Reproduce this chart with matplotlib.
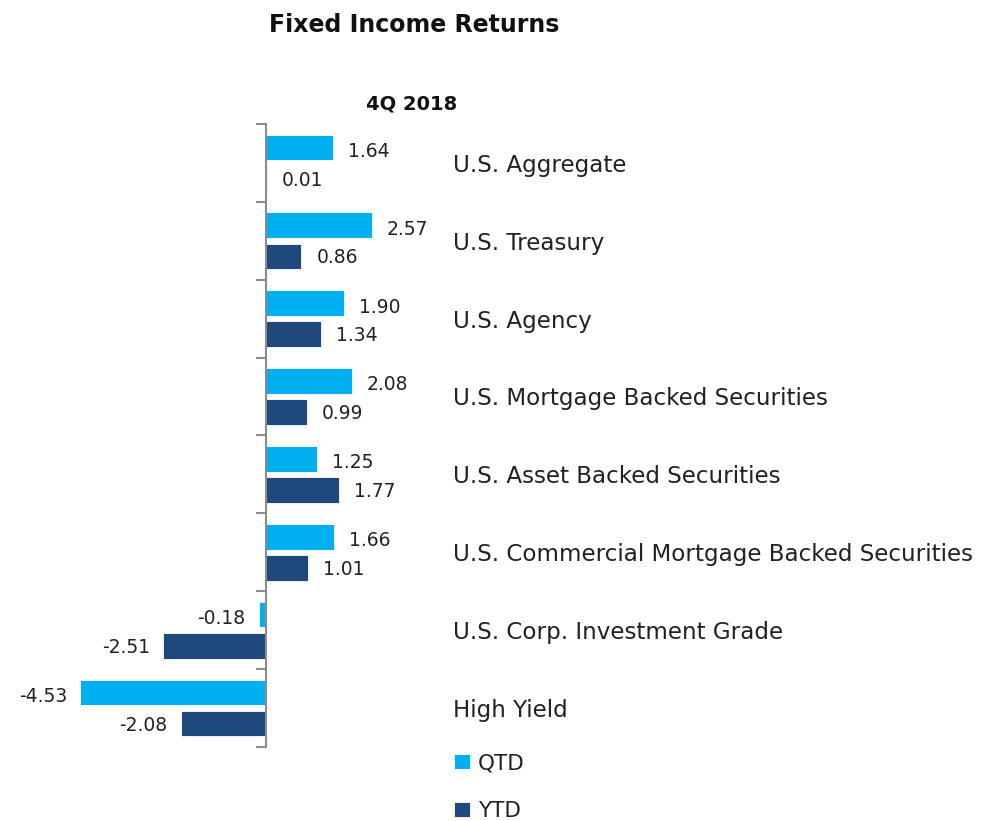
import matplotlib.pyplot as plt
import numpy as np

categories = ["U.S. Aggregate", "U.S. Treasury", "U.S. Agency",
              "U.S. Mortgage Backed Securities", "U.S. Asset Backed Securities",
              "U.S. Commercial Mortgage Backed Securities",
              "U.S. Corp. Investment Grade", "High Yield"]
qtd = [1.64, 2.57, 1.90, 2.08, 1.25, 1.66, -0.18, -4.53]
ytd = [0.01, 0.86, 1.34, 0.99, 1.77, 1.01, -2.51, -2.08]

plt.rcParams['font.family'] = ['DejaVu Sans']

C_QTD = '#00B0F0'
C_YTD = '#1F497D'
TXT = '#222222'

fig = plt.figure(figsize=(9.84, 8.21), dpi=100)
ax = fig.add_axes([80/984, 1-747/821, 373/984, (747-124)/821])

n = len(categories)
y = np.arange(n)
off = 0.2
h = 0.33
ax.barh(y - off, qtd, height=h, color=C_QTD, edgecolor='white', linewidth=0.6, label='QTD')
ax.barh(y + off, ytd, height=h, color=C_YTD, edgecolor='white', linewidth=0.6, label='YTD')

ax.set_xlim(-4.53, 4.55)
ax.set_ylim(n - 0.5, -0.5)

def label(v, yy):
    if v >= 0:
        ax.annotate(f"{v:.2f}", (v, yy), xytext=(15, 0), textcoords='offset pixels',
                    ha='left', va='center', fontsize=13.5, color=TXT)
    else:
        ax.annotate(f"{v:.2f}", (v, yy), xytext=(-13, 0), textcoords='offset pixels',
                    ha='right', va='center', fontsize=13.5, color=TXT)

for yi, v in zip(y - off, qtd):
    label(v, yi + 0.05)
for yi, v in zip(y + off, ytd):
    label(v, yi + 0.02)

for yi, c in zip(y, categories):
    ax.text(1.0, yi + 0.03, c, transform=ax.get_yaxis_transform(), ha='left', va='center',
            fontsize=16.6, color=TXT)

for s in ['top', 'right', 'bottom']:
    ax.spines[s].set_visible(False)
ax.spines['left'].set_position(('data', 0))
ax.spines['left'].set_color('#8c8c8c')
ax.spines['left'].set_linewidth(1.5)
ax.set_xticks([])
ax.set_yticks(np.arange(n + 1) - 0.5)
ax.set_yticklabels([])
ax.tick_params(axis='y', direction='out', length=7, width=1.5, color='#8c8c8c', left=True)

fig.text(414/984, 1-25/821, "Fixed Income Returns", ha='center', va='center',
         fontsize=17, fontweight='bold', color='#111111')
fig.text(412/984, 1-104/821, "4Q 2018", ha='center', va='center',
         fontsize=14, fontweight='bold', color='#111111')

leg = fig.legend(loc='upper left', bbox_to_anchor=(448/984, 1-747/821), frameon=False,
                 fontsize=15.5, handlelength=0.7, handleheight=0.7, handletextpad=0.4,
                 labelspacing=1.3, borderaxespad=0, borderpad=0.3)
for t in leg.get_texts():
    t.set_color(TXT)

fig.savefig('out.png', dpi=100)
